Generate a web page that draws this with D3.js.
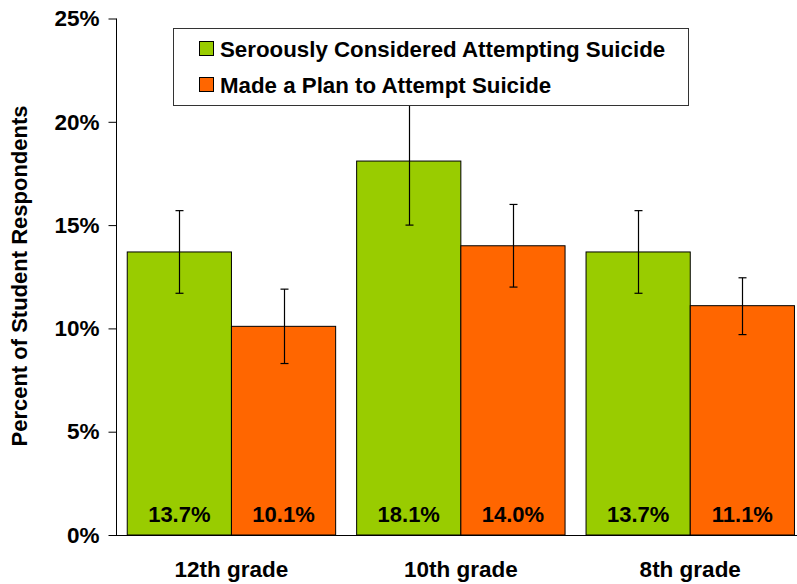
<!DOCTYPE html>
<html>
<head>
<meta charset="utf-8">
<script src="https://cdn.jsdelivr.net/npm/d3@7"></script>
<style>
  body { margin: 0; background: #fff; }
  text { font-family: "Liberation Sans", Arial, sans-serif; font-weight: bold; fill: #000; }
</style>
</head>
<body>
<svg id="chart" width="797" height="584"></svg>
<script>
const categories = ["12th grade", "10th grade", "8th grade"];
const seriesNames = ["Seroously Considered Attempting Suicide", "Made a Plan to Attempt Suicide"];
const seriesColors = ["#99CC00", "#FF6600"];
const considered = [13.7, 18.1, 13.7];
const consideredLow = [11.7, 15.0, 11.7];
const consideredHigh = [15.7, 21.2, 15.7];
const plan = [10.1, 14.0, 11.1];
const planLow = [8.3, 12.0, 9.7];
const planHigh = [11.9, 16.0, 12.45];
const yTicks = [0, 5, 10, 15, 20, 25];

const svg = d3.select("#chart");
const x0 = 116, x1 = 805.7, yTop = 18.5, yBot = 535;

const x = d3.scaleBand().domain(categories).range([x0, x1]).paddingInner(0.0915).paddingOuter(0.049);
const xs = d3.scaleBand().domain([0, 1]).range([0, x.bandwidth()]);
const y = d3.scaleLinear().domain([0, 25]).range([yBot, yTop]);

const series = [
  { name: seriesNames[0], color: seriesColors[0], v: considered, lo: consideredLow, hi: consideredHigh },
  { name: seriesNames[1], color: seriesColors[1], v: plan, lo: planLow, hi: planHigh }
];

const data = [];
categories.forEach((c, i) => series.forEach((s, j) => data.push({ c, j, v: s.v[i], lo: s.lo[i], hi: s.hi[i], color: s.color })));

// bars
svg.append("g").selectAll("rect").data(data).join("rect")
  .attr("x", d => x(d.c) + xs(d.j))
  .attr("y", d => y(d.v))
  .attr("width", xs.bandwidth())
  .attr("height", d => y(0) - y(d.v))
  .attr("fill", d => d.color)
  .attr("stroke", "#000")
  .attr("stroke-width", 1);

// error bars
const eg = svg.append("g").attr("stroke", "#000").attr("stroke-width", 1.2);
data.forEach(d => {
  const cx = Math.round(x(d.c) + xs(d.j) + xs.bandwidth() / 2) + 0.5;
  eg.append("line").attr("x1", cx).attr("x2", cx).attr("y1", y(d.lo)).attr("y2", y(d.hi));
  eg.append("line").attr("x1", cx - 4).attr("x2", cx + 4).attr("y1", y(d.lo)).attr("y2", y(d.lo));
  eg.append("line").attr("x1", cx - 4).attr("x2", cx + 4).attr("y1", y(d.hi)).attr("y2", y(d.hi));
});

// value labels
svg.append("g").selectAll("text").data(data).join("text")
  .attr("x", d => x(d.c) + xs(d.j) + xs.bandwidth() / 2)
  .attr("y", y(0) - 13)
  .attr("text-anchor", "middle")
  .attr("font-size", 22)
  .text(d => d.v.toFixed(1) + "%");

// y axis
const yAxis = d3.axisLeft(y).tickValues(yTicks).tickFormat(d => d + "%").tickSize(8).tickPadding(9);
const ya = svg.append("g").attr("transform", `translate(${x0 + 0.5},0)`).call(yAxis);
ya.select(".domain").attr("stroke", "#000").attr("d", `M0,${yTop}V${yBot}`);
ya.selectAll(".tick line").attr("stroke", "#000");
ya.selectAll(".tick text").attr("font-size", 22.5).attr("font-family", "Liberation Sans, Arial, sans-serif").attr("font-weight", "bold").attr("fill", "#000");

// x axis
const xAxis = d3.axisBottom(x).tickSize(0).tickPadding(26);
const xa = svg.append("g").attr("transform", `translate(0,${yBot})`).call(xAxis);
xa.select(".domain").attr("stroke", "#000").attr("d", `M${x0},0.5H797`);
xa.selectAll(".tick text").attr("font-size", 22.5).attr("font-family", "Liberation Sans, Arial, sans-serif").attr("font-weight", "bold").attr("fill", "#000");

// y title
svg.append("text")
  .attr("transform", `translate(27,276) rotate(-90)`)
  .attr("text-anchor", "middle")
  .attr("font-size", 22)
  .text("Percent of Student Respondents");

// legend
const lg = svg.append("g").attr("transform", "translate(173,28)");
lg.append("rect").attr("x", 0.5).attr("y", 0.5).attr("width", 515).attr("height", 77)
  .attr("fill", "#fff").attr("stroke", "#333").attr("stroke-width", 1);
series.forEach((s, i) => {
  const gy = 13 + i * 36;
  lg.append("rect").attr("x", 26.5).attr("y", gy + 0.5).attr("width", 14).attr("height", 14)
    .attr("fill", s.color).attr("stroke", "#000");
  lg.append("text").attr("x", 47).attr("y", gy + 16).attr("font-size", 22.3).text(s.name);
});
</script>
</body>
</html>
